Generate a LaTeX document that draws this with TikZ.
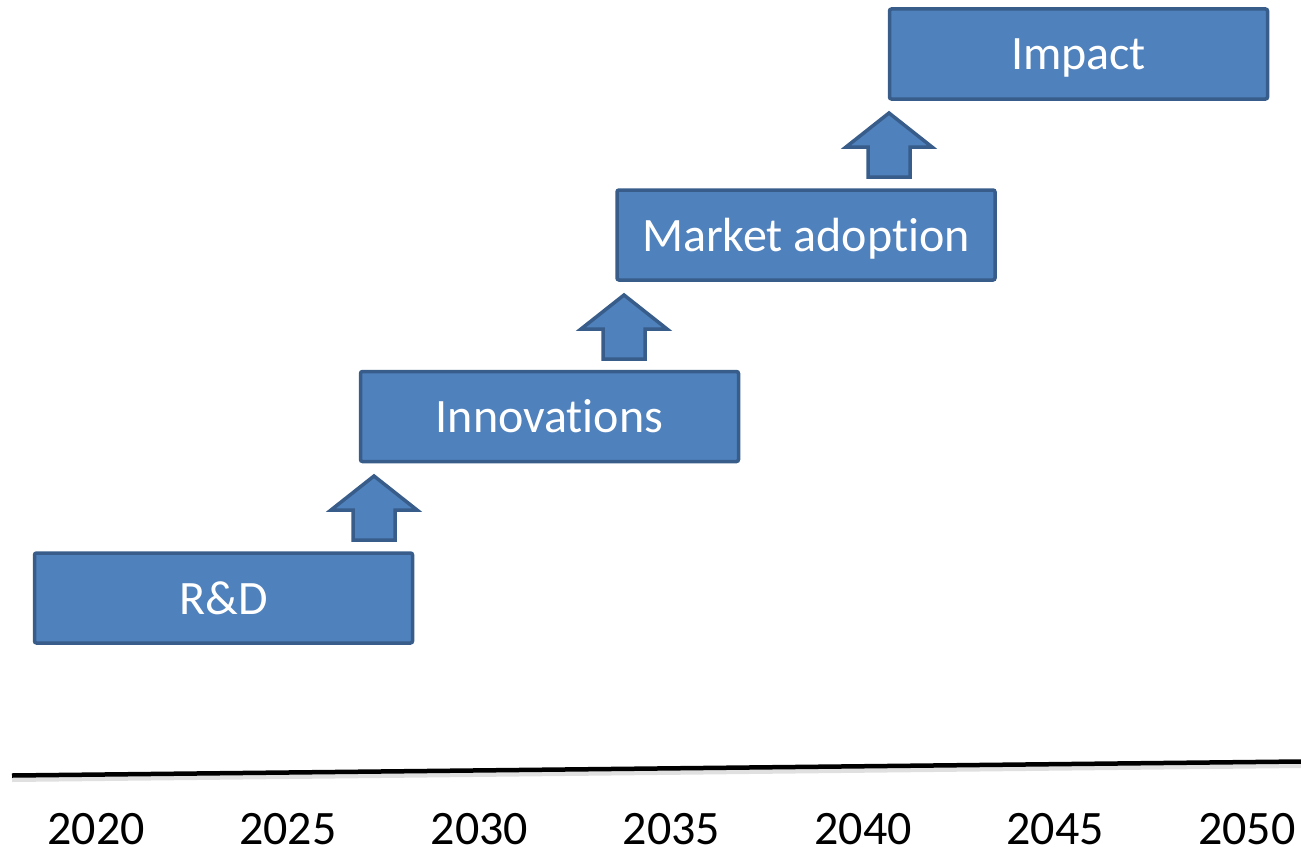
\documentclass[tikz,border=0pt]{standalone}
\usepackage{fontspec}
\setmainfont[Ligatures=NoCommon]{Carlito}
\definecolor{boxfill}{HTML}{4F81BD}
\definecolor{boxedge}{HTML}{385D8A}
\begin{document}
\begin{tikzpicture}[x=1pt,y=-1pt,
  stage/.style={draw=boxedge,fill=boxfill,line width=3.5pt,rounded corners=2pt,
    minimum width=378pt,minimum height=90pt,inner sep=0pt,text=white,
    text height=37pt,text depth=5pt,
    font=\fontsize{48}{56}\selectfont},
  uparrow/.style={draw=boxedge,fill=boxfill,line width=3.5pt,line join=miter},
  year/.style={font=\fontsize{48}{56}\selectfont,text=black,inner sep=0pt}]
\useasboundingbox (0,0) rectangle (1301,851);
\node[stage] (rd) at (223.5,598) {R\&D};
\node[stage] (inn) at (549.5,416.5) {Innovations};
\node[stage] (mkt) at (806,235) {Market adoption};
\node[stage] (imp) at (1078.5,54) {Impact};
% block arrows
\foreach \cx/\tip [count=\i] in {374/476, 624/295, 889/113}{
  \draw[uparrow] (\cx,\tip) -- ++(43,34) -- ++(-22,0) -- ++(0,30) -- ++(-42,0)
    -- ++(0,-30) -- ++(-22,0) -- cycle;
}
% axis
\coordinate (axL) at (12,775.5);
\coordinate (axR) at (1301,761.5);
\draw[line width=5pt,black!12] ([yshift=-4pt]axL) -- ([yshift=-4pt]axR);
\draw[line width=4.5pt,black] (axL) -- (axR);
\foreach \yr [count=\i from 0] in {2020,2025,2030,2035,2040,2045,2050}{
  \node[year] (y\yr) at (96+191.8*\i,829) {\yr};
}
\end{tikzpicture}
\end{document}
